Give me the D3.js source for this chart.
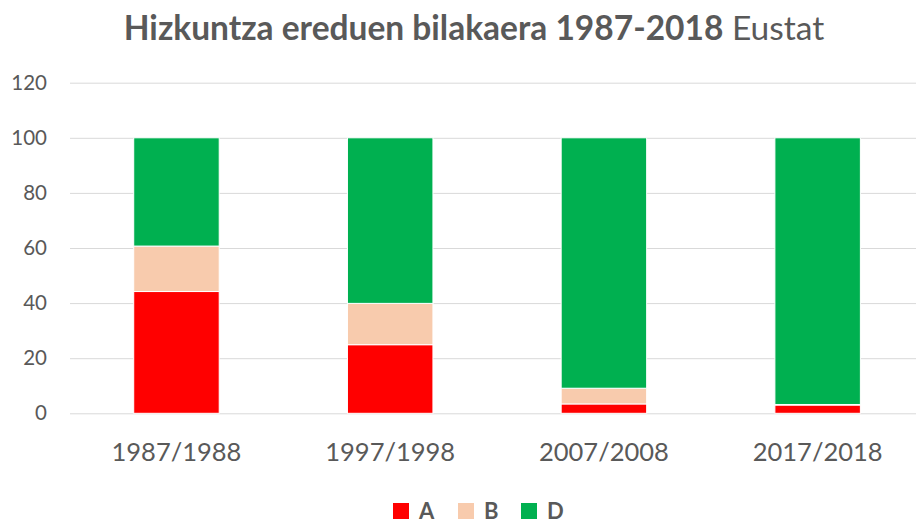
<!DOCTYPE html>
<html><head><meta charset="utf-8">
<script src="https://cdn.jsdelivr.net/npm/d3@7"></script>
<style>body{margin:0;background:#fff}svg{display:block}</style>
</head><body>
<svg id="c" width="916" height="524"></svg>
<script>
const categories = ["1987/1988","1997/1998","2007/2008","2017/2018"];
const seriesNames = ["A","B","D"];
const valuesA = [44.2, 24.9, 3.4, 3.0];
const valuesB = [16.5, 15.0, 5.7, 0.2];
const valuesD = [39.3, 60.1, 90.9, 96.8];
const yTicks = [0,20,40,60,80,100,120];
const colors = ["#FF0000","#F8CBAD","#00B050"];
const titleBold = "Hizkuntza ereduen bilakaera 1987-2018";
const titleNormal = " Eustat";

const font = "Lato, 'Open Sans', sans-serif";
const svg = d3.select("#c");
const rows = categories.map((c,i)=>({cat:c, A:valuesA[i], B:valuesB[i], D:valuesD[i]}));
const stack = d3.stack().keys(seriesNames)(rows);

const x = d3.scaleBand().domain(categories).range([69.6, 924.5]).paddingInner(0.6).paddingOuter(0.3);
const y = d3.scaleLinear().domain([0,120]).range([413.3, 82.7]);

// gridlines
const yAxis = d3.axisLeft(y).tickValues(yTicks).tickSize(-(916-70)).tickPadding(23);
const gy = svg.append("g").attr("transform","translate(70,0)").call(yAxis);
gy.select(".domain").remove();
gy.selectAll(".tick line").attr("stroke","#D9D9D9").attr("stroke-width",1);
gy.selectAll(".tick text").attr("fill","#595959").style("font-family",font).style("font-size","20.5px");

// bars
svg.append("g").selectAll("g").data(stack).join("g")
  .attr("fill",(d,i)=>colors[i])
  .selectAll("rect").data(d=>d).join("rect")
  .attr("x",d=>x(d.data.cat))
  .attr("width",x.bandwidth())
  .attr("y",d=>y(d[1]))
  .attr("height",d=>y(d[0])-y(d[1]))
  .attr("stroke","#fff").attr("stroke-width",1);

// x axis labels
const xAxis = d3.axisBottom(x).tickSize(0).tickPadding(30);
const gx = svg.append("g").attr("transform","translate(0,413.3)").call(xAxis);
gx.select(".domain").remove();
gx.selectAll(".tick text").attr("fill","#595959").style("font-family",font).style("font-size","25.5px");

// title
const t = svg.append("text").attr("x",474).attr("y",40).attr("text-anchor","middle")
  .attr("fill","#595959").style("font-family",font).style("font-size","33.5px");
t.append("tspan").attr("font-weight","bold").text(titleBold);
t.append("tspan").text(titleNormal);

// legend
const legendX = [393, 458, 521];
const lg = svg.append("g");
seriesNames.forEach((s,i)=>{
  lg.append("rect").attr("x",legendX[i]).attr("y",503).attr("width",16).attr("height",16).attr("fill",colors[i]);
  lg.append("text").attr("x",legendX[i]+26).attr("y",519).attr("fill","#595959")
    .style("font-family",font).style("font-size","22px").attr("font-weight","bold").text(s);
});
</script>
</body></html>
